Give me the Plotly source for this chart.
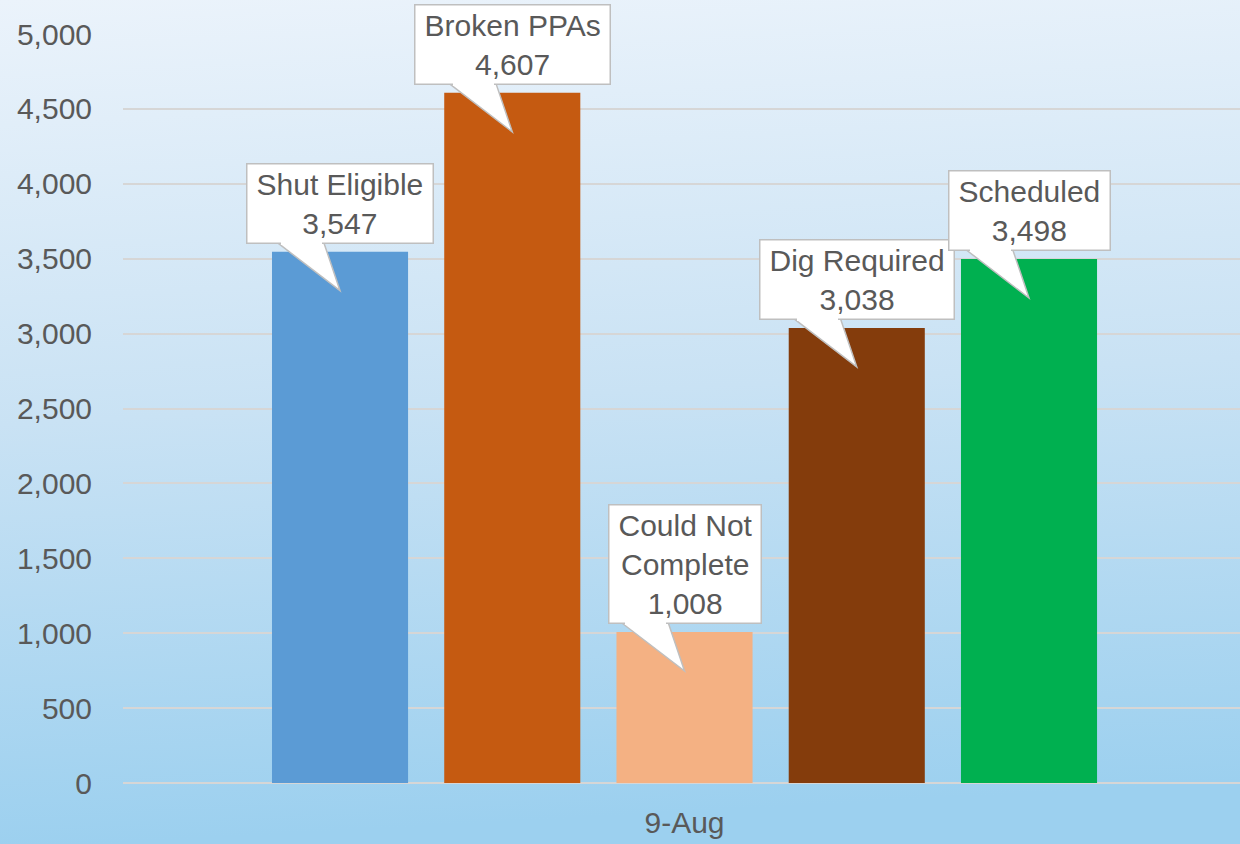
import base64
import plotly.graph_objects as go

# Status counts for the 9-Aug snapshot
period = "9-Aug"
categories = ["Shut Eligible", "Broken PPAs", "Could Not<br>Complete", "Dig Required", "Scheduled"]
values = [3547, 4607, 1008, 3038, 3498]
bar_colors = ["#5B9BD5", "#C55A11", "#F4B183", "#843C0C", "#00B050"]
y_ticks = list(range(0, 5001, 500))

W, H = 1240, 844
M = dict(l=123, r=0, t=34, b=61)
plot_w = W - M["l"] - M["r"]
plot_h = H - M["t"] - M["b"]

FONT = "Liberation Sans, Arial, sans-serif"
TEXT_COLOR = "#595959"
BOX_LINE = "#BFBFBF"
PAD = "\u2009"

fig = go.Figure()

xs = list(range(len(categories)))
for i, (name, val, col) in enumerate(zip(categories, values, bar_colors)):
    fig.add_trace(go.Bar(
        x=[xs[i]], y=[val], width=0.79, marker=dict(color=col, line=dict(width=0)),
        name=name.replace("<br>", " "), showlegend=False, hoverinfo="skip",
    ))

# Callout labels: white box above each bar plus a wedge pointing into the bar
label_anns = []
cover_anns = []
for i, (name, val) in enumerate(zip(categories, values)):
    lines = name.split("<br>") + [f"{val:,}"]
    text = "<br>".join(PAD + ln + PAD for ln in lines)
    label_anns.append(dict(
        x=xs[i], y=val, xref="x", yref="y", text=text, showarrow=False,
        xanchor="center", yanchor="bottom", yshift=8,
        font=dict(family=FONT, size=30, color=TEXT_COLOR),
        bgcolor="white", bordercolor=BOX_LINE, borderwidth=1.5, borderpad=3,
        align="center",
    ))
    fig.add_shape(
        type="path", xref="x", yref="y", xsizemode="pixel", ysizemode="pixel",
        xanchor=xs[i], yanchor=val,
        path="M -62,8.5 L 0,-39 L -16,8.5",
        fillcolor="white", line=dict(color=BOX_LINE, width=1.5), layer="above",
    )
    # hide the box edge where the wedge joins it
    cover_anns.append(dict(
        x=xs[i], y=val, xref="x", yref="y", text=PAD, showarrow=False,
        xanchor="center", yanchor="middle", xshift=-39, yshift=8.5,
        width=41, height=3, font=dict(size=1),
        bgcolor="white", borderwidth=0, borderpad=0,
    ))

# Soft vertical gradient behind the whole figure
svg = (
    f'<svg xmlns="http://www.w3.org/2000/svg" width="{W}" height="{H}" preserveAspectRatio="none">'
    '<defs><linearGradient id="g" x1="0" y1="0" x2="0.08" y2="1">'
    '<stop offset="0" stop-color="#EBF3FB"/>'
    '<stop offset="0.5" stop-color="#C9E2F4"/>'
    '<stop offset="1" stop-color="#9CD0EF"/>'
    '</linearGradient></defs>'
    f'<rect width="{W}" height="{H}" fill="url(#g)"/></svg>'
)
bg_src = "data:image/svg+xml;base64," + base64.b64encode(svg.encode()).decode()

fig.update_layout(
    width=W, height=H, margin=M,
    paper_bgcolor="#C9E2F4", plot_bgcolor="rgba(0,0,0,0)",
    barmode="overlay",
    font=dict(family=FONT, size=30, color=TEXT_COLOR),
    showlegend=False,
    annotations=label_anns + cover_anns,
    images=[dict(
        source=bg_src, xref="paper", yref="paper",
        x=-M["l"] / plot_w, y=1 + M["t"] / plot_h,
        sizex=W / plot_w, sizey=H / plot_h,
        xanchor="left", yanchor="top", sizing="stretch", layer="below",
    )],
    xaxis=dict(
        range=[-1.26, 5.225], tickvals=[2], ticktext=[period],
        showgrid=False, zeroline=False, showline=False, ticks="",
        ticklabelstandoff=19,
        tickfont=dict(family=FONT, size=30, color=TEXT_COLOR),
        fixedrange=True,
    ),
    yaxis=dict(
        range=[0, 5000], tickvals=y_ticks, tickformat=",",
        showgrid=True, gridcolor="#D6D6D6", gridwidth=1.5,
        zeroline=True, zerolinecolor="#D6D6D6", zerolinewidth=1.5,
        showline=False, ticks="", ticklabelstandoff=30,
        tickfont=dict(family=FONT, size=30, color=TEXT_COLOR),
        fixedrange=True,
    ),
)

fig.write_html("out.html", config=dict(displayModeBar=False))
